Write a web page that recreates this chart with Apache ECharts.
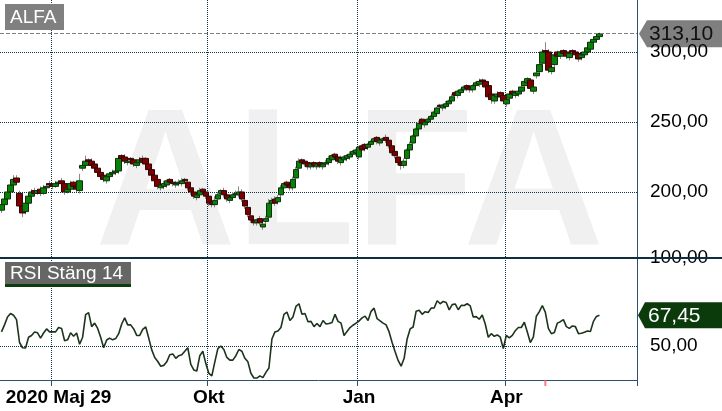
<!DOCTYPE html>
<html><head><meta charset="utf-8">
<script src="https://cdn.jsdelivr.net/npm/echarts@6/dist/echarts.min.js"></script>
<style>html,body{margin:0;padding:0;background:#fff}#c{width:722px;height:411px}</style>
</head><body><div id="c"></div>
<script>
const ticker = 'ALFA';
const rsiTitle = 'RSI Stäng 14';
const tickLabels = [
  {idx: 17, text: '2020 Maj 29'},
  {idx: 69, text: 'Okt'},
  {idx: 119, text: 'Jan'},
  {idx: 168, text: 'Apr'}
];
const markerIdx = 181;
const slotCount = 212;

const open = [
187,191,195,200,205,210,199,190,186,192,
197,201,199,202,199,203,206,205,204,206,
208,206,200,202,207,204,201,217,219,223,
222,220,217,214,212,208,211,213,214,215,
226,225,221,224,223,219,221,224,224,220,
216,212,209,203,204,205,209,207,205,206,
206,209,207,203,200,196,198,202,200,197,
193,191,195,199,201,198,194,196,198,198,
200,194,189,183,180,178,181,175,179,182,
192,195,193,198,203,207,205,203,210,217,
223,222,221,218,221,218,221,218,220,221,
223,227,225,221,223,224,225,227,228,225,
233,234,232,234,236,239,235,237,239,237,
233,229,225,221,219,224,230,235,240,245,
252,248,250,252,254,256,262,260,261,263,
265,271,269,271,273,276,275,273,276,277,
280,279,276,270,265,268,271,269,263,267,
272,269,270,272,276,278,280,272,283,286,
292,301,300,286,291,300,297,301,300,296,
301,300,299,296,298,300,302,307,309,311];
const close = [
191,195,200,205,209,207,190,185,192,197,
200,199,201,199,203,204,205,204,206,207,
206,200,202,206,204,202,208,219,222,222,
219,217,214,211,209,211,213,214,215,224,
224,222,222,223,220,221,223,222,220,216,
212,208,204,205,206,208,207,206,206,207,
208,208,203,200,197,198,201,200,197,192,
191,194,198,201,198,195,196,198,199,200,
195,190,184,180,178,180,178,177,181,192,
194,192,196,203,206,205,203,209,216,222,
221,220,218,220,219,220,219,220,221,224,
226,225,222,224,225,226,227,229,230,232,
230,231,234,236,238,236,237,238,237,233,
228,226,221,219,222,230,234,240,245,249,
249,250,252,254,257,260,261,262,263,265,
268,269,272,273,275,274,273,276,278,279,
279,275,268,266,269,270,268,265,266,270,
270,271,272,275,279,281,274,275,285,291,
300,300,287,289,298,297,300,299,297,299,
300,298,295,298,300,303,307,309,311,313.1];
const high = [
193,197,202,207,212,212,201,192,194,198,
202,203,202,204,205,206,208,206,208,208,
210,207,204,208,208,206,213,221,226,224,
224,221,218,215,214,213,214,216,217,226,
227,227,224,225,224,223,225,226,225,222,
218,214,210,207,208,209,210,209,208,209,
210,210,209,205,201,200,203,203,201,199,
195,197,200,202,203,199,198,200,201,204,
202,195,190,185,182,181,183,179,183,195,
196,197,198,205,207,208,207,211,218,224,
224,223,222,221,222,221,222,221,223,226,
227,228,226,226,226,227,229,230,231,233,
234,235,235,237,239,240,238,239,241,238,
234,230,227,223,224,231,236,241,246,251,
253,251,253,255,258,261,263,263,265,266,
270,272,273,274,276,277,276,277,279,281,
281,280,277,271,270,272,272,270,268,272,
273,272,274,276,280,282,281,277,287,293,
302,307,302,291,299,301,301,302,301,300,
302,301,300,299,301,304,308,310,312,313.8];
const low = [
185,189,193,198,203,205,188,182,184,190,
195,197,198,197,198,201,203,202,203,204,
204,198,199,200,202,200,199,215,217,220,
217,215,212,209,207,206,209,211,212,213,
222,220,219,221,218,217,219,220,218,214,
210,206,202,201,202,203,205,204,203,204,
204,206,201,198,195,194,196,198,195,190,
189,189,193,197,196,193,192,194,196,196,
193,188,182,178,176,176,176,173,177,180,
190,190,191,196,201,203,201,201,208,215,
219,218,216,216,217,216,217,216,218,219,
221,223,220,219,221,222,223,225,226,223,
228,229,230,232,234,234,233,235,235,231,
226,224,219,216,217,222,228,233,238,243,
247,246,248,250,252,254,259,258,259,261,
263,267,267,269,271,272,271,271,274,275,
277,273,266,263,263,266,266,263,261,265,
268,267,268,270,274,276,272,270,281,284,
290,298,285,284,289,295,295,297,295,294,
298,296,293,294,296,298,300,305,307,309];
const rsi = [
58,62,66.5,68.5,67.5,65,52,49,48.9,55,
56,58,57.5,54.5,57.4,59.7,58,58,58,60.5,
60,53,53.5,57.5,55.5,57.4,51,55,67.8,69,
61,63,60,55,49,53.4,54.5,53.5,54.2,57,
62.5,66,62,62,59.7,56,56,59.5,60.8,54.5,
47.8,43.5,41.2,38.5,39,41,45,45.5,43,44.5,
45,47,49,39.5,36.4,35.8,44.5,47,40,34.5,
33,41,48.5,50,48,43.5,42,42,44.5,48,
47,43,41,34.5,31.8,31.8,33,32,35,37.5,
54,58,58.5,60.5,68,69.3,64.5,66.5,72.5,74,
68,68.5,63.8,64,61,62.8,61,64.5,62.5,62.8,
63.4,68,64,63,56,58.3,60.5,61.8,63,64.2,
66,67,64.5,69.7,71.5,65.5,64.3,63,62,58,
52,46.7,41.8,38.5,43,54,59.7,60.8,69.8,70.3,
68,69.5,69,71.5,71.6,75.7,74,75.3,74.7,70.5,
73.5,73.9,70.6,73.1,73,74,72.8,66.5,66.7,65.2,
67.6,62.5,55,57,55.5,56.3,55,48.5,56,54.6,
56,58.7,60.5,60.5,63.5,58,52,55,66.9,69.5,
73,69.1,60,57,57.7,63,63.8,65,61,60,
61.4,61,57,57.2,57.8,58.5,58.2,64,66.8,67.45];

const FONT = '"Liberation Sans", Arial, sans-serif';
const fmt = v => Number(v).toFixed(2).replace('.', ',');
const cats = Array.from({length: slotCount}, (_, i) => String(i));
const tickMap = {};
tickLabels.forEach(t => { tickMap[t.idx] = t.text; });
const isTick = (i) => tickMap[i] !== undefined;

const wickData = open.map((o, i) => [o, close[i], low[i], high[i]]);
const bodyData = open.map((o, i) => [o, close[i], Math.min(o, close[i]), Math.max(o, close[i])]);
const lastClose = close[close.length - 1];
const lastRsi = rsi[rsi.length - 1];

const gridLine = {type: 'dotted', color: '#0f3346', width: 1};
const navy = '#2b4f72';

const chart = echarts.init(document.getElementById('c'), null, {renderer: 'canvas'});
const option = {
  animation: false,
  backgroundColor: '#ffffff',
  grid: [
    {left: 0, top: 0, width: 637, height: 262, outerBoundsMode: 'none', containLabel: false},
    {left: 0, top: 258, width: 637, height: 176, outerBoundsMode: 'none', containLabel: false},
    {left: 0, top: 0, width: 637, height: 380, outerBoundsMode: 'none', containLabel: false}
  ],
  xAxis: [
    {type: 'category', gridIndex: 0, data: cats, boundaryGap: true, show: false},
    {type: 'category', gridIndex: 1, data: cats, boundaryGap: true, show: false},
    {type: 'category', gridIndex: 2, data: cats, boundaryGap: true,
      axisLine: {show: true, lineStyle: {color: navy, width: 1}},
      axisTick: {show: true, interval: isTick, length: 6, lineStyle: {color: navy}},
      axisLabel: {
        interval: isTick, margin: 8, fontSize: 19, fontWeight: 'bold', color: '#000', fontFamily: FONT,
        formatter: (v, i) => i === tickLabels[0].idx ? '{first|' + tickMap[i] + '}' : (tickMap[i] || ''),
        rich: {first: {padding: [0, 0, 0, 12], fontSize: 19, fontWeight: 'bold', color: '#000', fontFamily: FONT}}
      },
      splitLine: {show: true, interval: isTick, lineStyle: gridLine}
    }
  ],
  yAxis: [
    {type: 'value', gridIndex: 0, position: 'right', min: 150, max: 337.14, interval: 50,
      axisLine: {show: false}, axisTick: {show: false},
      axisLabel: {margin: 13, fontSize: 19, color: '#000', fontFamily: FONT, formatter: fmt,
        showMinLabel: false, showMaxLabel: false},
      splitLine: {show: true, showMinLine: false, showMaxLine: false, lineStyle: gridLine}
    },
    {type: 'value', gridIndex: 1, position: 'right', min: 0, max: 100, interval: 50,
      axisLine: {show: false}, axisTick: {show: false},
      axisLabel: {margin: 13, fontSize: 19, color: '#000', fontFamily: FONT, formatter: fmt,
        showMinLabel: false, showMaxLabel: true},
      splitLine: {show: true, showMinLine: false, showMaxLine: false, lineStyle: gridLine}
    },
    {type: 'value', gridIndex: 2, position: 'right', min: 0, max: 1,
      axisLine: {show: true, lineStyle: {color: navy, width: 1}},
      axisTick: {show: false}, axisLabel: {show: false}, splitLine: {show: false}
    }
  ],
  series: [
    {type: 'candlestick', xAxisIndex: 0, yAxisIndex: 0, data: wickData, barWidth: 1,
      itemStyle: {color: '#8a8a8a', color0: '#8a8a8a', borderColor: '#8a8a8a', borderColor0: '#8a8a8a', borderWidth: 1}
    },
    {type: 'candlestick', xAxisIndex: 0, yAxisIndex: 0, data: bodyData, barWidth: 6,
      itemStyle: {color: '#078207', color0: '#7d0000', borderColor: '#0f2f0f', borderColor0: '#2f0505', borderWidth: 1},
      markLine: {silent: true, symbol: 'none', label: {show: false},
        lineStyle: {type: [4, 2], color: '#808080', width: 1},
        data: [{yAxis: lastClose}]}
    },
    {type: 'line', xAxisIndex: 1, yAxisIndex: 1, data: rsi, showSymbol: false,
      lineStyle: {color: '#1c331c', width: 1.6}, z: 3
    },
    {type: 'scatter', xAxisIndex: 2, yAxisIndex: 2, data: [[markerIdx, 0]], symbol: 'rect',
      symbolSize: [2, 6], symbolOffset: [0, 3], itemStyle: {color: '#ff5a5a'}, clip: false, z: 6
    }
  ]
};
chart.setOption(option);

const yPrice = chart.convertToPixel({gridIndex: 0}, [0, lastClose])[1];
const yRsi = chart.convertToPixel({gridIndex: 1}, [0, lastRsi])[1];
chart.setOption({
  graphic: [
    {type: 'text', id: 'wm', z: -10, silent: true, x: 95, y: 190,
      style: {text: ticker, font: 'bold 195px ' + FONT, fill: '#f0f0f0', align: 'left', verticalAlign: 'middle'}},
    {type: 'group', id: 'tickerBox', x: 5, y: 4, z: 100, children: [
      {type: 'rect', id: 'tb_r', shape: {x: 0, y: 0, width: 59, height: 26}, style: {fill: '#808080'}},
      {type: 'text', id: 'tb_t', x: 5, y: 13.5, style: {text: ticker, font: '19px ' + FONT, fill: '#ffffff', verticalAlign: 'middle'}}
    ]},
    {type: 'group', id: 'rsiBox', x: 5, y: 262, z: 100, children: [
      {type: 'rect', id: 'rb_r', shape: {x: 0, y: 0, width: 126, height: 22}, style: {fill: '#666666'}},
      {type: 'rect', id: 'rb_u', shape: {x: 0, y: 22, width: 126, height: 3}, style: {fill: '#0d3d0d'}},
      {type: 'text', id: 'rb_t', x: 5, y: 11.5, style: {text: rsiTitle, font: '19px ' + FONT, fill: '#ffffff', verticalAlign: 'middle'}}
    ]},
    {type: 'line', id: 'divider', z: 100, shape: {x1: 0, y1: 258, x2: 722, y2: 258},
      style: {stroke: '#0f2f40', lineWidth: 2}},
    {type: 'group', id: 'priceTag', z: 110, children: [
      {type: 'polygon', id: 'pt_p', shape: {points: [[639, yPrice], [647, yPrice - 13.5], [722, yPrice - 13.5], [722, yPrice + 13.5], [647, yPrice + 13.5]]},
        style: {fill: '#7f7f7f'}},
      {type: 'text', id: 'pt_t', x: 649, y: yPrice + 0.5, style: {text: fmt(lastClose), font: '21px ' + FONT, fill: '#111111', verticalAlign: 'middle'}}
    ]},
    {type: 'group', id: 'rsiTag', z: 110, children: [
      {type: 'polygon', id: 'rt_p', shape: {points: [[638, yRsi], [645, yRsi - 13], [722, yRsi - 13], [722, yRsi + 13], [645, yRsi + 13]]},
        style: {fill: '#0b3a0b'}},
      {type: 'text', id: 'rt_t', x: 648, y: yRsi + 0.5, style: {text: fmt(lastRsi), font: '21px ' + FONT, fill: '#ffffff', verticalAlign: 'middle'}}
    ]}
  ]
});
</script>
</body></html>
